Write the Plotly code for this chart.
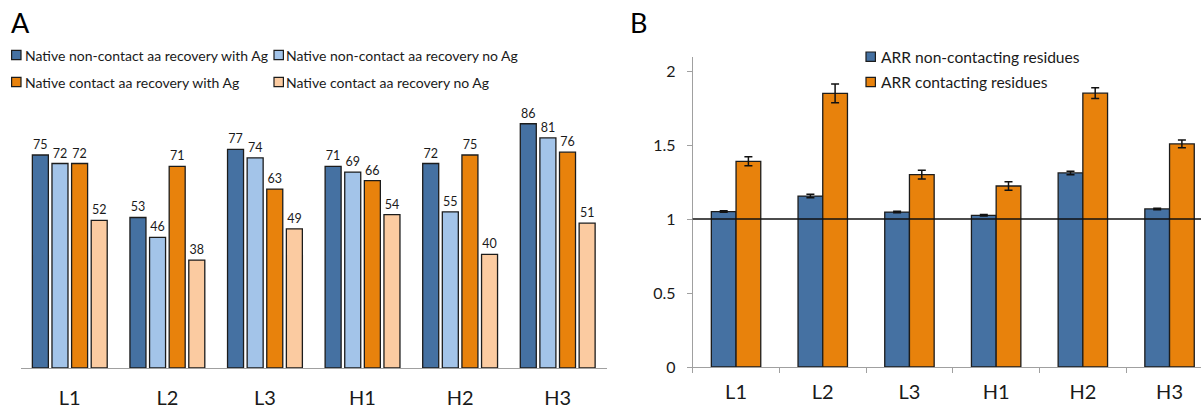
import plotly.graph_objects as go

W, H = 1201, 409

# ---- data -------------------------------------------------------------
regions = ["L1", "L2", "L3", "H1", "H2", "H3"]

series_a = [
    "Native non-contact aa recovery with Ag",
    "Native non-contact aa recovery no Ag",
    "Native contact aa recovery with Ag",
    "Native contact aa recovery no Ag",
]
noncontact_with_ag = [75, 53, 77, 71, 72, 86]
noncontact_no_ag = [72, 46, 74, 69, 55, 81]
contact_with_ag = [72, 71, 63, 66, 75, 76]
contact_no_ag = [52, 38, 49, 54, 40, 51]

series_b = ["ARR non-contacting residues", "ARR contacting residues"]
arr_noncontacting = [1.05, 1.155, 1.047, 1.025, 1.311, 1.068]
arr_noncontacting_err = [0.005, 0.012, 0.005, 0.005, 0.012, 0.005]
arr_contacting = [1.39, 1.849, 1.30, 1.223, 1.85, 1.507]
arr_contacting_err = [0.03, 0.063, 0.03, 0.028, 0.036, 0.026]

ticks_b = [0, 0.5, 1, 1.5, 2]
tick_text_b = ["0", "0.5", "1", "1.5", "2"]

# ---- styling ----------------------------------------------------------
FONT = "Lato"
TXT = "#1a1a1a"
EDGE = "#1c1c1c"
AXIS = "#a0a0a0"
colors_a = ["#4571a2", "#a3c4e9", "#e8820c", "#fbcba1"]
colors_b = ["#4571a2", "#e8820c"]


def px(x):
    return x / W


def py(y):
    return 1 - y / H


fig = go.Figure()

# Panel A: four bars per region
values_a = [noncontact_with_ag, noncontact_no_ag, contact_with_ag, contact_no_ag]
bw_a, pitch_a = 0.164, 0.201
for i, (name, vals, col) in enumerate(zip(series_a, values_a, colors_a)):
    centre = (i - 1.5) * pitch_a
    fig.add_trace(go.Bar(
        x=regions, y=vals, name=name, xaxis="x", yaxis="y",
        width=bw_a, offset=centre - bw_a / 2,
        marker=dict(color=col, line=dict(color=EDGE, width=1.3)),
        texttemplate="%{y}", textposition="outside", cliponaxis=False,
        textfont=dict(family=FONT, size=12.5, color=TXT),
        showlegend=False,
    ))

# Panel B: ARR with error bars
bw_b = 0.285
for i, (name, vals, errs, col) in enumerate(zip(
        series_b, [arr_noncontacting, arr_contacting],
        [arr_noncontacting_err, arr_contacting_err], colors_b)):
    fig.add_trace(go.Bar(
        x=regions, y=vals, name=name, xaxis="x2", yaxis="y2",
        width=bw_b, offset=(i - 1) * bw_b,
        marker=dict(color=col, line=dict(color=EDGE, width=1.3)),
        error_y=dict(type="data", array=errs, visible=True,
                     color="#111", thickness=1.5, width=4),
        showlegend=False,
    ))

shapes = []
annotations = []

# reference line at ARR = 1
shapes.append(dict(type="line", xref="x2 domain", yref="y2",
                   x0=0, x1=1, y0=1, y1=1,
                   line=dict(color="#111", width=1.6), layer="above"))


def legend_entry(cx, cy, text, color, tx, size):
    s = 4.7
    shapes.append(dict(type="rect", xref="paper", yref="paper",
                       x0=px(cx - s), x1=px(cx + s),
                       y0=py(cy + s), y1=py(cy - s),
                       fillcolor=color, line=dict(color=EDGE, width=1.2)))
    annotations.append(dict(xref="paper", yref="paper", x=px(tx), y=py(cy),
                            xanchor="left", yanchor="middle", showarrow=False,
                            text=text, font=dict(family=FONT, size=size, color=TXT)))


# legend for panel A (2 x 2)
legend_entry(16.3, 55, series_a[0], colors_a[0], 23, 14)
legend_entry(278.7, 55, series_a[1], colors_a[1], 284, 14)
legend_entry(16.3, 82, series_a[2], colors_a[2], 23, 14)
legend_entry(278.7, 82, series_a[3], colors_a[3], 284, 14)

# legend for panel B
legend_entry(870.7, 56.7, series_b[0], colors_b[0], 879, 15.6)
legend_entry(870.7, 82, series_b[1], colors_b[1], 879, 15.6)

# panel letters
for letter, x in [("A", 9), ("B", 628)]:
    annotations.append(dict(xref="paper", yref="paper", x=px(x), y=py(23),
                            xanchor="left", yanchor="middle", showarrow=False,
                            text=letter, font=dict(family=FONT, size=27, color="#000")))

n_cat_b = (W - 692.7) / 86.7

fig.update_layout(
    template="none",
    width=W, height=H,
    margin=dict(l=0, r=0, t=0, b=0, autoexpand=False),
    paper_bgcolor="white", plot_bgcolor="white",
    barmode="overlay",
    font=dict(family=FONT, color=TXT),
    xaxis=dict(domain=[px(21), px(606.5)], range=[-0.5, 5.5],
               type="category", showline=True, linecolor=AXIS, linewidth=1,
               ticks="", showgrid=False, zeroline=False, automargin=False,
               tickfont=dict(family=FONT, size=20, color=TXT),
               ticklabelstandoff=12),
    yaxis=dict(domain=[py(368), py(84)], range=[0, 100], visible=False,
               automargin=False),
    xaxis2=dict(domain=[px(692.7), 1], range=[-0.5, -0.5 + n_cat_b],
                type="category", showline=True, linecolor=AXIS, linewidth=1,
                ticks="outside", ticklen=5, tickcolor=AXIS, tickson="boundaries",
                showgrid=False, zeroline=False, anchor="y2", automargin=False,
                tickfont=dict(family=FONT, size=20, color=TXT),
                ticklabelstandoff=7),
    yaxis2=dict(domain=[py(367), py(57)], range=[0, (367 - 57) / 148],
                tickvals=ticks_b, ticktext=tick_text_b,
                showline=True, linecolor=AXIS, linewidth=1,
                ticks="outside", ticklen=5, tickcolor=AXIS,
                showgrid=False, zeroline=False, anchor="x2", automargin=False,
                tickfont=dict(family=FONT, size=16, color=TXT),
                ticklabelstandoff=8),
    shapes=shapes,
    annotations=annotations,
)

fig.write_html("out.html")
